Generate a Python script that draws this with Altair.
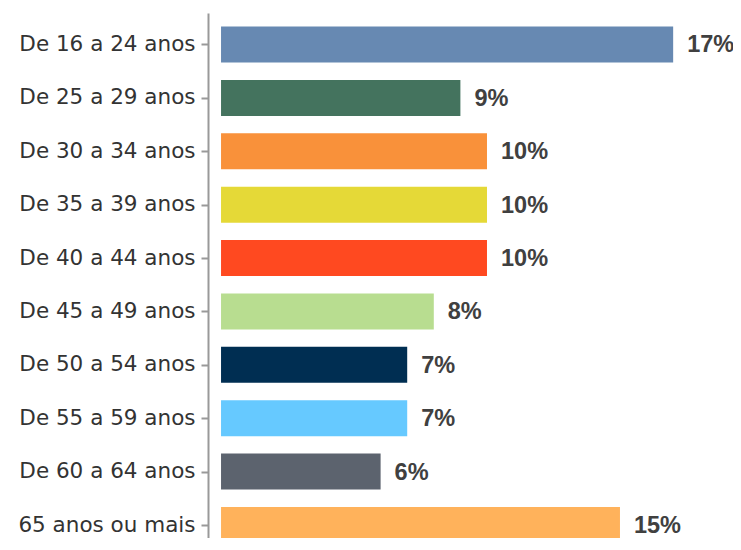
import altair as alt
import pandas as pd

categories = ["De 16 a 24 anos", "De 25 a 29 anos", "De 30 a 34 anos", "De 35 a 39 anos",
              "De 40 a 44 anos", "De 45 a 49 anos", "De 50 a 54 anos", "De 55 a 59 anos",
              "De 60 a 64 anos", "65 anos ou mais"]
values = [17, 9, 10, 10, 10, 8, 7, 7, 6, 15]
labels = ["17%", "9%", "10%", "10%", "10%", "8%", "7%", "7%", "6%", "15%"]
colors = ["#6789B2", "#44735E", "#F9913A", "#E5D937", "#FF4920", "#B8DD90",
          "#002E52", "#66C9FF", "#5C636E", "#FFB25B"]

df = pd.DataFrame({"cat": categories, "val": values, "lab": labels})

y = alt.Y("cat:N", sort=categories, title=None,
          scale=alt.Scale(type="point", padding=0.4166, align=0.708),
          axis=alt.Axis(labelFont="DejaVu Sans", labelFontSize=21.5, labelColor="#333333",
                        tickColor="#999999", tickSize=7, tickWidth=2,
                        domainColor="#999999", domainWidth=2, labelPadding=6,
                        grid=False))
x = alt.X("val:Q", title=None,
          scale=alt.Scale(domain=[-0.49, 19.25], nice=False, zero=False),
          axis=None)

bars = alt.Chart(df).mark_bar(size=36).encode(
    y=y, x=x, x2=alt.datum(0),
    color=alt.Color("cat:N", scale=alt.Scale(domain=categories, range=colors), legend=None),
)
text = alt.Chart(df).mark_text(align="left", baseline="middle", dx=14, dy=1,
                               font="Liberation Sans", fontSize=23.5, fontWeight="bold",
                               color="#404040").encode(
    y=y, x=x, text="lab:N")

chart = (bars + text).properties(
    width=525, height=525,
    padding={"left": 200, "top": 5, "right": 0, "bottom": 0},
    autosize=alt.AutoSizeParams(type="none"),
).configure_view(stroke=None)

chart.save("out.html", embed_options={"renderer": "svg", "actions": False})
